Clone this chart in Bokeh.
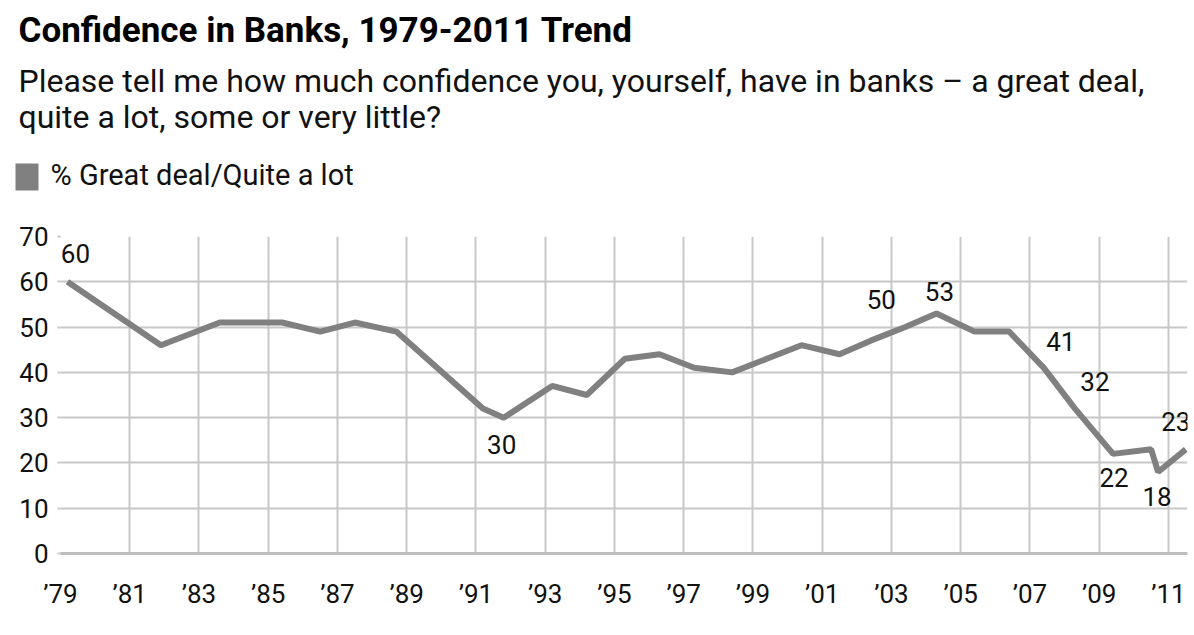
from bokeh.plotting import figure
from bokeh.layouts import column
from bokeh.models import FixedTicker, Range1d, ColumnDataSource
from bokeh.core.properties import value
from bokeh.embed import file_html
from bokeh.resources import INLINE

# ---- data ----
years = [1979.2, 1981.9, 1983.6, 1984.5, 1985.4, 1986.5, 1987.5, 1988.7,
         1991.2, 1991.8, 1993.2, 1994.2, 1995.3, 1996.3, 1997.3, 1998.4,
         1999.4, 2000.4, 2001.5, 2002.4, 2003.4, 2004.3, 2005.4, 2006.4,
         2007.4, 2008.3, 2009.4, 2010.5, 2010.7, 2011.5]
pct_confident = [60, 46, 51, 51, 51, 49, 51, 49,
                 32, 30, 37, 35, 43, 44, 41, 40,
                 43, 46, 44, 47, 50, 53, 49, 49,
                 41, 32, 22, 23, 18, 23]
tick_years = [1979, 1981, 1983, 1985, 1987, 1989, 1991, 1993, 1995,
              1997, 1999, 2001, 2003, 2005, 2007, 2009, 2011]
tick_labels = ["\u201979", "\u201981", "\u201983", "\u201985", "\u201987",
               "\u201989", "\u201991", "\u201993", "\u201995", "\u201997",
               "\u201999", "\u201901", "\u201903", "\u201905", "\u201907",
               "\u201909", "\u201911"]
y_ticks = [0, 10, 20, 30, 40, 50, 60, 70]
labelled_points = [0, 9, 20, 21, 24, 25, 26, 28, 29]

title_text = "Confidence in Banks, 1979-2011 Trend"
subtitle_lines = ["Please tell me how much confidence you, yourself, have in banks \u2013 a great deal,",
                  "quite a lot, some or very little?"]
legend_text = "% Great deal/Quite a lot"

# ---- styling ----
FONT = "Roboto"
LINE_C = "#808080"
GRID_C = "#c8c8c8"
TXT_C = "#111111"
W = 1190
HEAD_H = 200
CHART_H = 430
BASE_FIX = 12  # rendered alphabetic baseline sits lower than requested

label_offsets = {0: (8, -28), 9: (-2, 27), 20: (-24, -28), 21: (3, -22),
                 24: (17, -26), 25: (20, -27), 26: (1, 24), 28: (-1, 25),
                 29: (-10, -28)}

# ---- header (title, subtitle, legend key) ----
head = figure(width=W, height=HEAD_H, output_backend="svg", toolbar_location=None,
              tools="", x_range=Range1d(0, W), y_range=Range1d(0, HEAD_H),
              x_axis_type=None, y_axis_type=None,
              min_border_left=0, min_border_right=0, min_border_top=0,
              min_border_bottom=0)
head.frame_align = False
head.outline_line_color = None
head.xgrid.visible = False
head.ygrid.visible = False
head.text(x=[18], y=[HEAD_H - 42 + BASE_FIX], text=[title_text], text_font=value(FONT),
          text_font_size="35px", text_font_style="bold", text_color="#000000",
          text_baseline="alphabetic", text_align="left")
head.text(x=[18, 18], y=[HEAD_H - 92 + BASE_FIX, HEAD_H - 128 + BASE_FIX],
          text=subtitle_lines, text_font=value(FONT), text_font_size="32px",
          text_color=TXT_C, text_baseline="alphabetic", text_align="left")
head.rect(x=[26.5], y=[HEAD_H - 176.5], width=23, height=27,
          width_units="screen", height_units="screen",
          fill_color=LINE_C, line_color=None)
head.text(x=[50], y=[HEAD_H - 186 + BASE_FIX], text=[legend_text], text_font=value(FONT),
          text_font_size="29px", text_color=TXT_C,
          text_baseline="alphabetic", text_align="left")

# ---- chart ----
p = figure(width=W, height=CHART_H, output_backend="svg", toolbar_location=None,
           tools="", x_range=Range1d(1979, 2011.55), y_range=Range1d(0, 70),
           min_border_left=60, min_border_right=3, min_border_top=36,
           min_border_bottom=77)
p.frame_align = False
p.outline_line_color = None

p.xgrid.ticker = FixedTicker(ticks=tick_years)
p.ygrid.ticker = FixedTicker(ticks=y_ticks)
for g in (p.xgrid, p.ygrid):
    g.grid_line_color = GRID_C
    g.grid_line_width = 2

xa = p.xaxis[0]
xa.ticker = FixedTicker(ticks=tick_years)
xa.major_label_overrides = {t: l for t, l in zip(tick_years, tick_labels)}
xa.axis_line_color = "#bdbdbd"
xa.axis_line_width = 3
xa.major_tick_out = 0
xa.major_tick_in = 0
xa.minor_tick_out = 0
xa.minor_tick_in = 0
xa.major_label_standoff = 25
xa.major_label_text_font = FONT
xa.major_label_text_font_size = "26px"
xa.major_label_text_color = TXT_C

ya = p.yaxis[0]
ya.ticker = FixedTicker(ticks=y_ticks)
ya.axis_line_color = None
ya.major_tick_out = 3
ya.major_tick_in = 0
ya.major_tick_line_color = GRID_C
ya.major_tick_line_width = 2
ya.minor_tick_out = 0
ya.minor_tick_in = 0
ya.major_label_standoff = 9
ya.major_label_text_font = FONT
ya.major_label_text_font_size = "26px"
ya.major_label_text_color = TXT_C

src = ColumnDataSource(dict(x=years, y=pct_confident))
p.line("x", "y", source=src, line_color=LINE_C, line_width=6)

lab_src = ColumnDataSource(dict(
    x=[years[i] for i in labelled_points],
    y=[pct_confident[i] for i in labelled_points],
    t=[str(pct_confident[i]) for i in labelled_points],
    dx=[label_offsets[i][0] for i in labelled_points],
    dy=[label_offsets[i][1] for i in labelled_points],
))
p.text("x", "y", text="t", x_offset="dx", y_offset="dy", source=lab_src,
       text_font=value(FONT), text_font_size="26px", text_color=TXT_C,
       text_align="center", text_baseline="alphabetic")

layout = column(head, p, spacing=0)
open("out.html", "w").write(file_html(layout, INLINE))
